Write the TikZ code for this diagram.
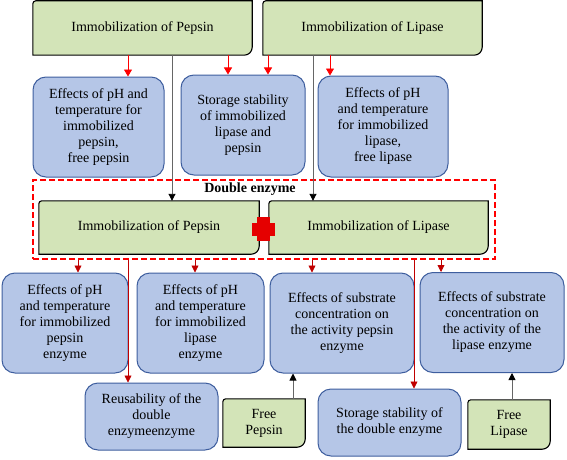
\documentclass[tikz,border=0pt]{standalone}
\usepackage{fontspec}
\setmainfont{Liberation Serif}
\usetikzlibrary{arrows.meta,backgrounds}

\definecolor{boxgreen}{RGB}{211,228,184}
\definecolor{boxblue}{RGB}{181,198,231}
\definecolor{blueline}{RGB}{62,94,158}
\definecolor{darkred}{RGB}{192,0,0}

% green box: top left and bottom right corners rounded
\newcommand{\diagshape}[1]{%
	\draw[line width=1.1pt,fill=boxgreen] (#1.south west) -- ([yshift=-3pt]#1.north west)
	arc[start angle=180,end angle=90,radius=3pt] -- (#1.north east)
	-- ([yshift=8pt]#1.south east) arc[start angle=0,end angle=-90,radius=8pt] -- cycle;}

\begin{document}
\begin{tikzpicture}[
		x=1pt,y=1pt,
		every node/.style={font=\fontsize{14}{16}\selectfont,align=center,inner sep=0pt},
		greenblock/.style={minimum width=219pt,minimum height=54pt},
		blueblock/.style={draw=blueline,fill=boxblue,line width=1pt,rounded corners=13pt},
		redarrow/.style={draw=red,line width=0.8pt,-{Triangle[width=8pt,length=7pt]}},
		darkarrow/.style={draw=darkred,line width=0.8pt,-{Triangle[width=7pt,length=7pt]}},
		grayarrow/.style={draw=black!60,line width=0.9pt,-{Triangle[width=7pt,length=7pt,color=black]}}
		]
		\useasboundingbox (0,0) rectangle (567,459);

		\path (142.5,431) node[greenblock] (tp) {Immobilization of Pepsin}
		 ++(230,0) node[greenblock] (tl) {Immobilization of Lipase};

		\path (98.5,332) node[blueblock,minimum width=131pt,minimum height=100pt] (e1)
		 {Effects of pH and\\temperature for\\immobilized\\pepsin,\\free pepsin}
		 ++(144.5,2) node[blueblock,minimum width=124pt,minimum height=100pt] (e2)
		 {Storage stability\\of immobilized\\lipase and\\pepsin}
		 ++(140,-1.5) node[blueblock,minimum width=130pt,minimum height=101pt] (e3)
		 {Effects of pH\\and temperature\\for immobilized\\lipase,\\free lipase};

		\node[draw=red,line width=1.6pt,dash pattern=on 6pt off 3pt,minimum width=462pt,minimum height=79pt] (de) at (264,239.5) {};
		\node[font=\fontsize{14}{16}\selectfont\bfseries] (delabel) at (250,270) {Double enzyme};
		\path (149,231.5) node[greenblock,minimum width=220pt,minimum height=53pt] (dp) {Immobilization of Pepsin}
		 ++(229.5,0) node[greenblock,minimum height=53pt] (dl) {Immobilization of Lipase};

		\path (65,136) node[blueblock,minimum width=126pt,minimum height=100pt] (ea)
		 {Effects of pH\\and temperature\\for immobilized\\pepsin\\enzyme}
		 ++(135.5,0) node[blueblock,minimum width=127pt,minimum height=100pt] (eb)
		 {Effects of pH\\and temperature\\for immobilized\\lipase\\enzyme}
		 ++(141.5,0) node[blueblock,minimum width=144pt,minimum height=100pt] (ec)
		 {Effects of substrate\\concentration on\\the activity pepsin\\enzyme}
		 ++(150,0.5) node[blueblock,minimum width=144pt,minimum height=100pt] (ed)
		 {Effects of substrate\\concentration on\\the activity of the\\lipase enzyme};

		\path (151.5,42.5) node[blueblock,minimum width=133pt,minimum height=67pt] (reuse)
		 {Reusability of the\\double\\enzymeenzyme}
		 ++(112.5,-6.5) node[minimum width=82pt,minimum height=48pt] (fp) {Free\\Pepsin}
		 ++(125.5,0.5) node[blueblock,minimum width=143pt,minimum height=67pt] (st)
		 {Storage stability of\\the double enzyme}
		 ++(119.5,-2) node[minimum width=82pt,minimum height=49pt] (fl) {Free\\Lipase};

		\begin{scope}[on background layer]
			\foreach \n in {tp,tl,dp,dl,fp,fl} {\diagshape{\n}}
		\end{scope}

		% the plus between the two enzymes
		\coordinate (plus) at (263.5,230);
		\fill[red!90!black] (plus) +(-11.5,-6.5) rectangle +(11.5,6.5);
		\fill[red!90!black] (plus) +(-6.5,-12) rectangle +(6.5,12);

		\draw[redarrow] ([xshift=-14.5pt]tp.south) -- ([xshift=-14.5pt]tp.south |- e1.north);
		\draw[redarrow] ([xshift=85.5pt]tp.south) -- ([xshift=85.5pt]tp.south |- e2.north);
		\draw[redarrow] ([xshift=-104.5pt]tl.south) -- ([xshift=-104.5pt]tl.south |- e2.north);
		\draw[redarrow] ([xshift=-42.5pt]tl.south) -- ([xshift=-42.5pt]tl.south |- e3.north);
		\draw[grayarrow] ([xshift=29.5pt]tp.south) -- ([xshift=29.5pt]tp.south |- dp.north);
		\draw[grayarrow] ([xshift=-59.5pt]tl.south) -- ([xshift=-59.5pt]tl.south |- dl.north);

		\draw[darkarrow] ([xshift=-186pt]de.south) -- ([xshift=-186pt]de.south |- ea.north);
		\draw[darkarrow] ([xshift=-69pt]de.south) -- ([xshift=-69pt]de.south |- eb.north);
		\draw[darkarrow] ([xshift=48pt]de.south) -- ([xshift=48pt]de.south |- ec.north);
		\draw[darkarrow] ([xshift=177pt]de.south) -- ([xshift=177pt]de.south |- ed.north);
		\draw[darkarrow] ([xshift=-136pt]de.south) -- ([xshift=-136pt]de.south |- reuse.north);
		\draw[darkarrow] ([xshift=150pt]de.south) -- ([xshift=150pt]de.south |- st.north);

		\draw[grayarrow] ([xshift=29pt]fp.north) -- ([xshift=29pt]fp.north |- ec.south);
		\draw[grayarrow] ([xshift=3pt]fl.north) -- ([xshift=3pt]fl.north |- ed.south);
	\end{tikzpicture}
\end{document}
